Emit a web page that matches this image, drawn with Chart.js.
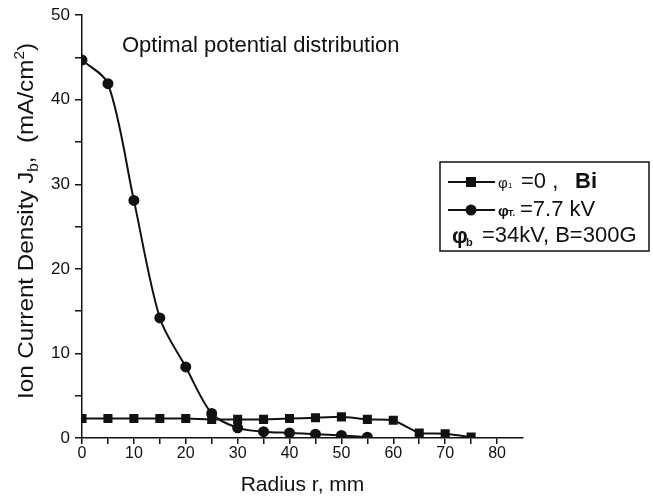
<!DOCTYPE html>
<html>
<head>
<meta charset="utf-8">
<script src="https://cdn.jsdelivr.net/npm/chart.js@4"></script>
<style>
  html, body { margin: 0; padding: 0; background: #fff; }
  #wrap { width: 653px; height: 502px; }
</style>
</head>
<body>
<div id="wrap"><canvas id="chart" width="653" height="502"></canvas></div>
<script>
// radius values, mm
var radius = [0, 5, 10, 15, 20, 25, 30, 35, 40, 45, 50, 55, 60, 65, 70, 75];

// phi1 = 0, Bi  (squares)
var squareSeries = [2.3, 2.3, 2.3, 2.3, 2.3, 2.2, 2.2, 2.2, 2.3, 2.4, 2.5, 2.2, 2.1, 0.6, 0.5, 0.1];

// phiT = 7.7 kV (circles)
var circleRadius = [0, 5, 10, 15, 20, 25, 30, 35, 40, 45, 50, 55];
var circleSeries = [44.7, 41.9, 28.1, 14.2, 8.4, 2.9, 1.2, 0.75, 0.6, 0.45, 0.3, 0.1];

var xTicks = [0, 10, 20, 30, 40, 50, 60, 70, 80];
var yTicks = [0, 10, 20, 30, 40, 50];

var font = '"Liberation Sans", Arial, sans-serif';

function toPoints(xs, ys) {
    return xs.map(function(x, i) { return { x: x, y: ys[i] }; });
}

// title, y-axis title and legend box drawn on the canvas
var extras = {
    id: 'extras',
    afterDraw: function(chart) {
        var ctx = chart.ctx;
        ctx.save();
        ctx.fillStyle = '#111';
        ctx.strokeStyle = '#111';

        // title inside the plot
        ctx.font = '22px ' + font;
        ctx.textBaseline = 'alphabetic';
        ctx.textAlign = 'left';
        ctx.fillText('Optimal potential distribution', 122, 52);

        // y axis title with sub/superscript
        ctx.save();
        ctx.translate(33, 221);
        ctx.rotate(-Math.PI / 2);
        ctx.scale(1.1, 1);
        var parts = [
            ['Ion Current Density J', 22, 0],
            ['b', 14, 5],
            [',  (mA/cm', 22, 0],
            ['2', 14, -9],
            [')', 22, 0]
        ];
        var total = 0;
        parts.forEach(function(p) { ctx.font = p[1] + 'px ' + font; total += ctx.measureText(p[0]).width; });
        var cx = -total / 2;
        parts.forEach(function(p) {
            ctx.font = p[1] + 'px ' + font;
            ctx.fillText(p[0], cx, p[2]);
            cx += ctx.measureText(p[0]).width;
        });
        ctx.restore();

        // legend box
        ctx.lineWidth = 1.5;
        ctx.strokeRect(440, 162, 209, 89);

        ctx.lineWidth = 2;
        ctx.beginPath(); ctx.moveTo(448, 182); ctx.lineTo(495, 182); ctx.stroke();
        ctx.fillRect(466, 177, 10, 10);
        ctx.beginPath(); ctx.moveTo(448, 210); ctx.lineTo(495, 210); ctx.stroke();
        ctx.beginPath(); ctx.arc(471, 210, 5.5, 0, Math.PI * 2); ctx.fill();

        ctx.textBaseline = 'middle';
        ctx.font = '15px ' + font;
        ctx.fillText('\u03C6', 498, 184);
        ctx.font = '8px ' + font;
        ctx.fillText('1', 508, 186);
        ctx.font = '22px ' + font;
        ctx.fillText('=0 ,', 521, 182);
        ctx.font = 'bold 22px ' + font;
        ctx.fillText('Bi', 575, 182);

        ctx.font = 'bold 15px ' + font;
        ctx.fillText('\u03C6', 498, 212);
        ctx.font = 'bold 9px ' + font;
        ctx.fillText('T.', 508, 214);
        ctx.font = '22px ' + font;
        ctx.fillText('=7.7 kV', 520, 210);

        ctx.font = 'bold 22px ' + font;
        ctx.fillText('\u03C6', 452, 237);
        ctx.font = 'bold 11px ' + font;
        ctx.fillText('b', 466, 243);
        ctx.font = '22px ' + font;
        ctx.fillText('=34kV, B=300G', 482, 236);
        ctx.restore();
    }
};

var ctx = document.getElementById('chart').getContext('2d');
var myChart = new Chart(ctx, {
    type: 'line',
    data: {
        datasets: [{
            label: 'phi1 = 0, Bi',
            data: toPoints(radius, squareSeries),
            borderColor: '#111',
            backgroundColor: '#111',
            borderWidth: 2,
            pointStyle: 'rect',
            pointRadius: 5,
            tension: 0.15
        },
        {
            label: 'phiT = 7.7 kV',
            data: toPoints(circleRadius, circleSeries),
            borderColor: '#111',
            backgroundColor: '#111',
            borderWidth: 2,
            pointStyle: 'circle',
            pointRadius: 4.5,
            tension: 0.3
        }]
    },
    options: {
        responsive: false,
        animation: false,
        layout: { padding: { left: 0, right: 130, top: 15, bottom: 0 } },
        plugins: {
            legend: { display: false },
            tooltip: { enabled: false }
        },
        scales: {
            x: {
                type: 'linear',
                min: 0,
                max: 85,
                afterFit: function(scale) { scale.height = 64; },
                afterBuildTicks: function(scale) {
                    scale.ticks = [];
                    for (var v = 0; v <= 80; v += 5) scale.ticks.push({ value: v });
                },
                border: { color: '#111', width: 1.5 },
                grid: { drawOnChartArea: false, color: '#111', tickLength: 6, lineWidth: 1.5 },
                ticks: {
                    color: '#111',
                    font: { family: font, size: 16 },
                    padding: 0,
                    maxRotation: 0,
                    autoSkip: false,
                    callback: function(v) { return xTicks.indexOf(v) >= 0 ? String(v) : ''; }
                },
                title: {
                    display: true,
                    text: 'Radius r, mm',
                    color: '#111',
                    font: { family: font, size: 21 },
                    padding: { top: 0, bottom: 4 }
                }
            },
            y: {
                min: 0,
                max: 50,
                afterFit: function(scale) { scale.width = 82; },
                afterBuildTicks: function(scale) {
                    scale.ticks = [];
                    for (var v = 0; v <= 50; v += 5) scale.ticks.push({ value: v });
                },
                border: { color: '#111', width: 1.5 },
                grid: { drawOnChartArea: false, color: '#111', tickLength: 7, lineWidth: 1.5 },
                ticks: {
                    color: '#111',
                    font: { family: font, size: 17 },
                    padding: 5,
                    autoSkip: false,
                    callback: function(v) { return yTicks.indexOf(v) >= 0 ? String(v) : ''; }
                }
            }
        }
    },
    plugins: [extras]
});
</script>
</body>
</html>
